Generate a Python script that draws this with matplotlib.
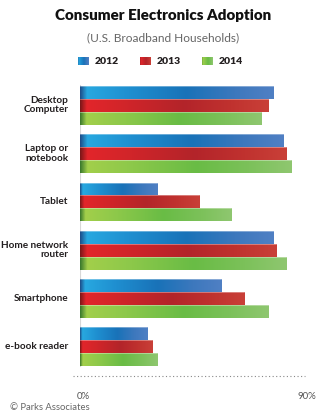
import numpy as np
import matplotlib.pyplot as plt
from matplotlib.colors import LinearSegmentedColormap

plt.rcParams['font.family'] = ['Lato', 'DejaVu Sans']

categories = ['Desktop\nComputer', 'Laptop or\nnotebook', 'Tablet',
              'Home network\nrouter', 'Smartphone', 'e-book reader']
years = ['2012', '2013', '2014']
adopt_2012 = [78, 82, 31, 78, 57, 27]
adopt_2013 = [76, 83, 48, 79, 66, 29]
adopt_2014 = [73, 85, 61, 83, 76, 31]
tick_labels = ['0%', '90%']

# gradient stops for each series: dark edge, bright, mid shade, lighter end
gradients = [
    ['#1d4e8a', '#28a8e0', '#1f8fd0', '#1972b8', '#3d78bd', '#5080c4'],
    ['#7c1719', '#e2262b', '#d02529', '#b3242a', '#c0322f', '#c94038'],
    ['#3b7a2d', '#a2cf4b', '#8cc84a', '#69bc45', '#7cc15a', '#8fc770'],
]
stops = [0.0, 0.035, 0.25, 0.55, 0.8, 1.0]
cmaps = [LinearSegmentedColormap.from_list('g%d' % i, list(zip(stops, c)))
         for i, c in enumerate(gradients)]

W, H = 326, 420
fig = plt.figure(figsize=(W / 100, H / 100), dpi=100)
ax = fig.add_axes([79.7 / W, (H - 376) / H, 223.8 / W, 292 / H])

series = [adopt_2012, adopt_2013, adopt_2014]
bar_h = 0.267
grad = np.linspace(0, 1, 256).reshape(1, -1)
y = np.arange(len(categories))
for k, vals in enumerate(series):
    offs = (k - 1) * bar_h
    bars = ax.barh(y + offs, vals, height=bar_h, color='none', linewidth=0)
    for b in bars:
        x0, y0 = b.get_x(), b.get_y()
        w, h = b.get_width(), b.get_height()
        im = ax.imshow(grad, cmap=cmaps[k], aspect='auto',
                       extent=[x0, x0 + w, y0 + h, y0], zorder=2)
        im.set_clip_path(b)
        ax.plot([x0, x0 + w], [y0, y0], color='white', lw=0.5, alpha=0.5, zorder=3)

ax.set_xlim(0, 90)
ax.set_ylim(5.605, -0.441)

for s in ax.spines.values():
    s.set_visible(False)
ax.set_xticks([])
ax.set_yticks([])

# light vertical baseline and dotted bottom rule
ax.plot([0, 0], [-0.42, 5.4], color='#d8d8d8', lw=0.8, zorder=1)
ax.plot([-2.6, 90.6], [5.605, 5.605], color='#888888', lw=0.8,
        linestyle=(0, (1, 2.2)), clip_on=False)

for i, cat in enumerate(categories):
    ax.text(-4.6, i, cat, ha='right', va='center', fontsize=7.2,
            fontweight='bold', color='#231f20', linespacing=1.05)

for xv, lab in zip([0, 90], tick_labels):
    ax.text(xv + 1.4, 6.02, lab, ha='center', va='center', fontsize=7,
            color='#555555')

fig.text(163 / W, 1 - 16 / H, 'Consumer Electronics Adoption', ha='center',
         va='center', fontsize=10.9, fontweight='heavy', color='#111111')
fig.text(163 / W, 1 - 38 / H, '(U.S. Broadband Households)', ha='center',
         va='center', fontsize=8.6, color='#666666')

legend_x = [78, 140, 201.7]
for k, lx in enumerate(legend_x):
    sw = fig.add_axes([lx / W, (H - 65.5) / H, 11 / W, 8.5 / H])
    sw.imshow(np.linspace(0.04, 0.9, 64).reshape(1, -1), cmap=cmaps[k],
              aspect='auto', extent=[0, 1, 0, 1])
    sw.axis('off')
    fig.text((lx + 17) / W, 1 - 61 / H, years[k], ha='left', va='center',
             fontsize=7.5, fontweight='heavy', color='#231f20')

fig.text(10 / W, 1 - 407 / H, '\u00a9 Parks Associates', ha='left', va='center',
         fontsize=6.8, color='#666666')

fig.savefig('out.png', dpi=100)
